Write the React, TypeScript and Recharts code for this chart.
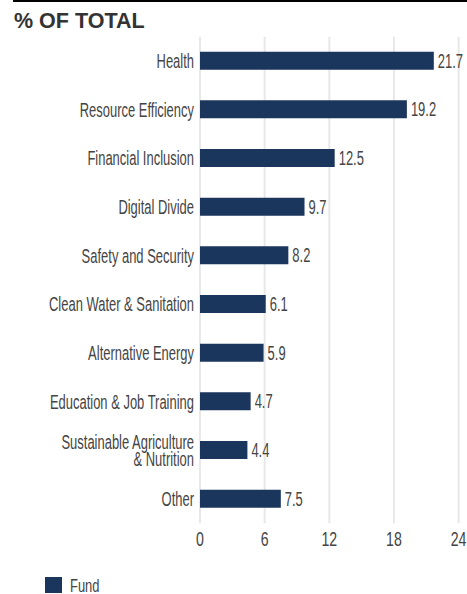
import { BarChart, Bar, XAxis, YAxis, CartesianGrid, LabelList } from "recharts";

const categories = [
  "Health",
  "Resource Efficiency",
  "Financial Inclusion",
  "Digital Divide",
  "Safety and Security",
  "Clean Water & Sanitation",
  "Alternative Energy",
  "Education & Job Training",
  "Sustainable Agriculture\n& Nutrition",
  "Other",
];
const fundValues = [21.7, 19.2, 12.5, 9.7, 8.2, 6.1, 5.9, 4.7, 4.4, 7.5];
const xTicks = [0, 6, 12, 18, 24];
const seriesName = "Fund";

const NAVY = "#1b365d";
const TEXT = "#444";
const FONT = "'Liberation Sans', Arial, sans-serif";
// no condensed face installed, so squeeze the regular one
const SQUEEZE = 0.665;
const LABEL_SIZE = 19.5;

const data = categories.map((c, i) => ({ name: c, value: fundValues[i] }));

function CategoryTick(props: any) {
  const { x, y, payload } = props;
  const lines = String(payload.value).split("\n");
  const lh = 16.5;
  const start = -((lines.length - 1) * lh) / 2;
  return (
    <g transform={`translate(${x + 2},${y}) scale(${SQUEEZE},1)`}>
      <text textAnchor="end" fill={TEXT} fontSize={LABEL_SIZE} fontFamily={FONT}>
        {lines.map((l, i) => (
          <tspan key={i} x={0} dy={i === 0 ? start + 7 : lh}>
            {l}
          </tspan>
        ))}
      </text>
    </g>
  );
}

function ValueTick(props: any) {
  const { x, y, payload } = props;
  return (
    <g transform={`translate(${x},${y}) scale(0.69,1)`}>
      <text textAnchor="middle" dy="0.71em" fill={TEXT} fontSize={20.5} fontFamily={FONT}>
        {payload.value}
      </text>
    </g>
  );
}

function BarValue(props: any) {
  const { x, y, width, height, value } = props;
  return (
    <g transform={`translate(${x + width + 4},${y + height / 2}) scale(${SQUEEZE},1)`}>
      <text dy={7} fill={TEXT} fontSize={LABEL_SIZE} fontFamily={FONT}>
        {value}
      </text>
    </g>
  );
}

export default function App() {
  return (
    <div
      style={{
        position: "absolute",
        left: 0,
        top: 0,
        width: 467,
        height: 594,
        background: "#fff",
        overflow: "hidden",
      }}
    >
      <div
        style={{
          position: "absolute",
          left: 13,
          top: 0,
          right: 0,
          height: 2,
          background: "#000",
        }}
      />
      <div
        style={{
          position: "absolute",
          left: 14,
          top: 9,
          fontFamily: FONT,
          fontWeight: 700,
          fontSize: 21.5,
          color: "#333",
        }}
      >
        % OF TOTAL
      </div>
      <div style={{ position: "absolute", left: 0, top: 0 }}>
        <BarChart
          width={467}
          height={560}
          data={data}
          layout="vertical"
          margin={{ top: 36.7, right: 8.4, bottom: 6.7, left: 0 }}
        >
          <CartesianGrid horizontal={false} stroke="#e8e8e8" strokeWidth={2} />
          <XAxis
            type="number"
            domain={[0, 24]}
            ticks={xTicks}
            axisLine={false}
            tickLine={false}
            height={30}
            tick={<ValueTick />}
          />
          <YAxis
            type="category"
            dataKey="name"
            width={200}
            axisLine={false}
            tickLine={false}
            interval={0}
            tick={<CategoryTick />}
          />
          <Bar
            dataKey="value"
            name={seriesName}
            fill={NAVY}
            barSize={18}
            isAnimationActive={false}
          >
            <LabelList dataKey="value" content={<BarValue />} />
          </Bar>
        </BarChart>
      </div>
      <div
        style={{
          position: "absolute",
          left: 45,
          top: 577,
          display: "flex",
          alignItems: "flex-start",
          fontFamily: FONT,
          fontSize: 18,
          lineHeight: "16px",
          color: TEXT,
        }}
      >
        <span
          style={{
            display: "inline-block",
            width: 17,
            height: 16,
            background: NAVY,
            marginRight: 8,
          }}
        />
        <span
          style={{
            display: "inline-block",
            transform: "scaleX(0.72)",
            transformOrigin: "left center",
            marginTop: 1,
          }}
        >
          {seriesName}
        </span>
      </div>
    </div>
  );
}
